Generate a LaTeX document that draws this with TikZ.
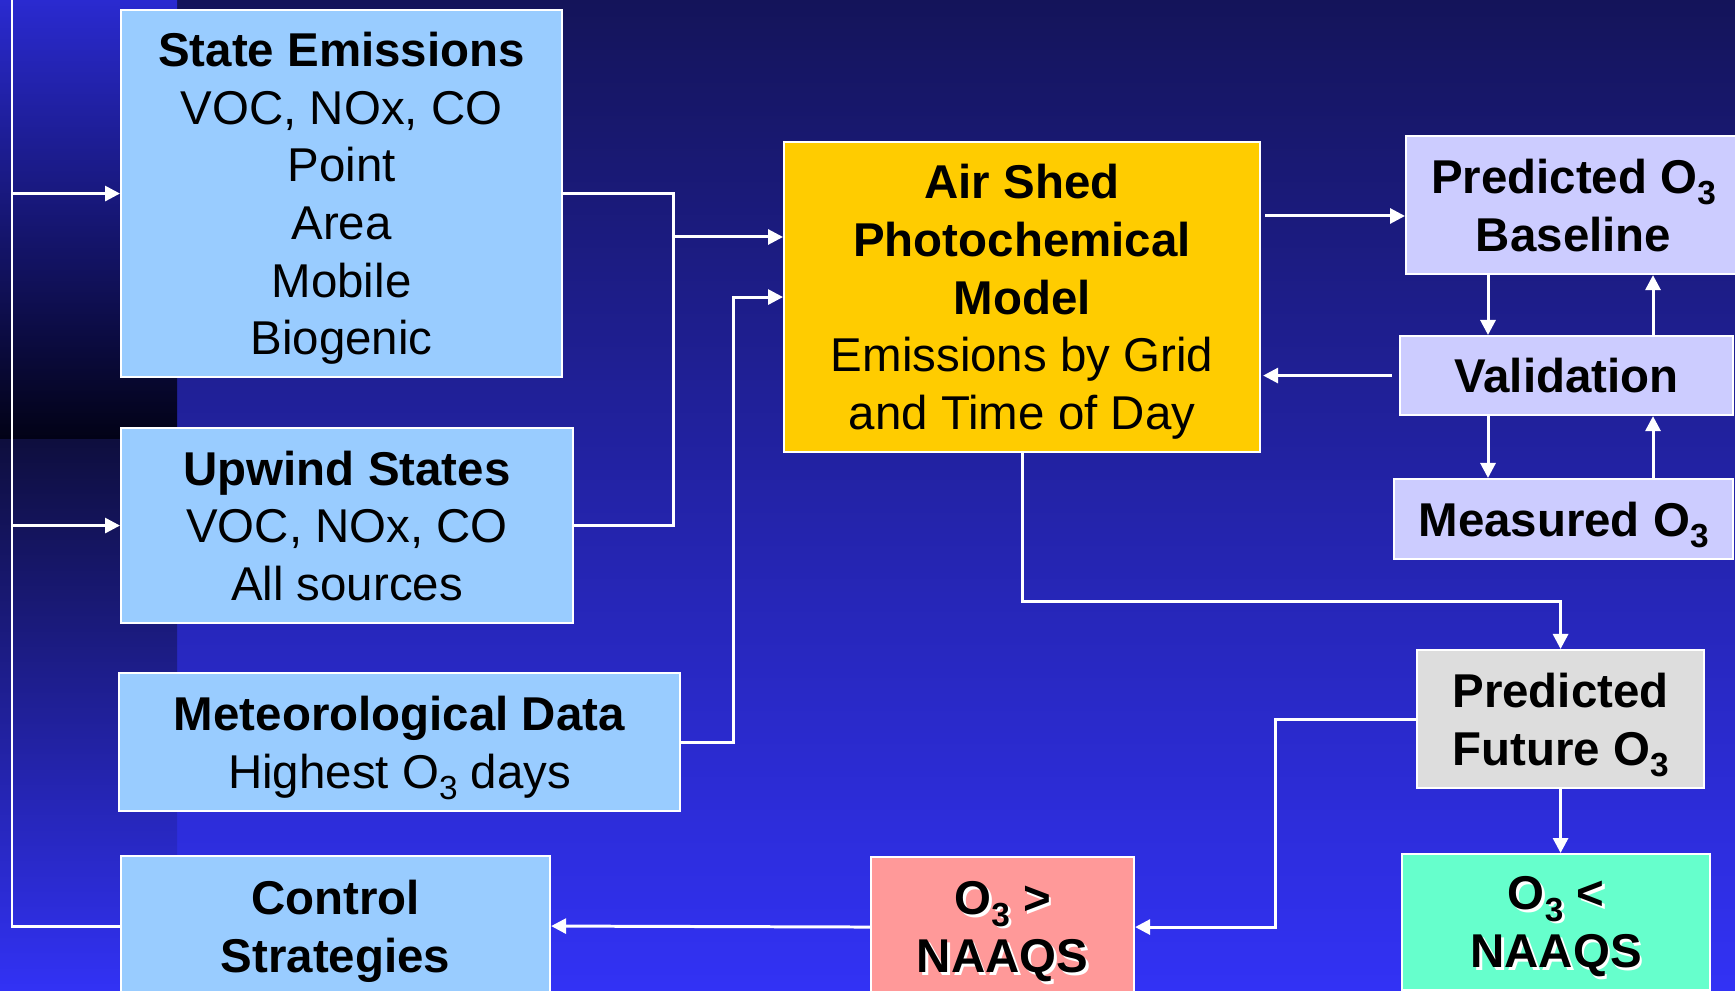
\documentclass[tikz,border=0pt]{standalone}
\usepackage{fontspec}
\setmainfont{Liberation Sans}
\usepackage{tikz}
\usetikzlibrary{arrows.meta,positioning,calc}
\usepackage{xcolor}

\definecolor{bgtop}{RGB}{20,20,90}
\definecolor{bgmid}{RGB}{38,38,180}
\definecolor{bgbot}{RGB}{50,50,245}
\definecolor{striptop}{RGB}{42,42,208}
\definecolor{stripdark}{RGB}{2,2,22}
\definecolor{stripnavy}{RGB}{14,14,62}
\definecolor{skyb}{RGB}{153,204,255}
\definecolor{gold}{RGB}{255,204,0}
\definecolor{lav}{RGB}{204,204,255}
\definecolor{greyb}{RGB}{221,221,221}
\definecolor{pinkb}{RGB}{255,153,153}
\definecolor{aqua}{RGB}{102,255,204}

\newcommand{\Othree}{O\raisebox{-0.45ex}{\fontsize{9.5pt}{9.5pt}\selectfont 3}}
\newcommand{\shd}[1]{\leavevmode\rlap{\kern0.8pt\raisebox{-0.8pt}{\color{white}#1}}#1}

\begin{document}
\begin{tikzpicture}[every node/.style={font=\fontsize{13.5pt}{16.4pt}\selectfont}]
\tikzset{box/.style={draw=white, line width=0.6pt, anchor=north west, align=center, inner sep=0pt, text depth=0pt}}
\tikzset{line/.style={draw=white, line width=0.85pt}}
\tikzset{arr/.style={line, -{Triangle[length=0.15cm,width=0.15cm]}}}
% background
\useasboundingbox (0,0) rectangle (17.35,-9.91);
\clip (0,0) rectangle (17.35,-9.91);
\shade[top color=bgtop, middle color=bgmid, bottom color=bgbot] (0,0) rectangle (17.35,-9.91);
\shade[top color=striptop, bottom color=stripdark] (0,0) rectangle (1.77,-4.40);
\shade[top color=stripnavy, bottom color=bgbot] (0,-4.40) rectangle (1.77,-9.91);
% inputs
\node[box, fill=skyb, minimum width=4.41cm, minimum height=3.67cm] (se) at (1.20,-0.09)
  {\textbf{State Emissions}\\VOC, NOx, CO\\Point\\Area\\Mobile\\Biogenic};
\node[box, fill=skyb, minimum width=4.52cm, minimum height=1.95cm] (up) at (1.20,-4.27)
  {\textbf{Upwind States}\\VOC, NOx, CO\\All sources};
\node[box, fill=skyb, minimum width=5.61cm, minimum height=1.38cm] (met) at (1.18,-6.72)
  {\textbf{Meteorological Data}\\Highest \Othree{} days};
\node[box, fill=skyb, minimum width=4.29cm, minimum height=1.40cm] (cs) at (1.20,-8.55)
  {\textbf{Control}\\\textbf{Strategies}};
% model
\node[box, fill=gold, minimum width=4.76cm, minimum height=3.10cm] (as) at (7.83,-1.41)
  {\textbf{Air Shed}\\\textbf{Photochemical}\\\textbf{Model}\\Emissions by Grid\\and Time of Day};
% validation loop
\node[box, fill=lav, minimum width=3.35cm, minimum height=1.38cm] (bl) at (14.05,-1.35)
  {\textbf{Predicted \Othree}\\\textbf{Baseline}};
\node[box, fill=lav, minimum width=3.33cm, minimum height=0.79cm] (val) at (13.99,-3.35)
  {\textbf{Validation}};
\node[box, fill=lav, minimum width=3.39cm, minimum height=0.80cm] (mo) at (13.93,-4.78)
  {\textbf{Measured \Othree}};
% outcome
\node[box, fill=greyb, minimum width=2.87cm, minimum height=1.38cm] (pf) at (14.16,-6.49)
  {\textbf{Predicted}\\\textbf{Future \Othree}};
\node[box, fill=pinkb, minimum width=2.63cm, minimum height=1.40cm] (gt) at (8.70,-8.56)
  {\textbf{\shd{\Othree{} >}}\\\textbf{\shd{NAAQS}}};
\node[box, fill=aqua, minimum width=3.08cm, minimum height=1.36cm] (lt) at (14.01,-8.53)
  {\textbf{\shd{\Othree{} <}}\\\textbf{\shd{NAAQS}}};
% connectors
\coordinate (j1) at (6.73,-2.37);
\coordinate (fb) at (0.12,0);
\coordinate (dx) at (14.88,0);
\coordinate (ux) at (16.53,0);
\coordinate (dy) at (0,-2.16);
\draw[line] (se.east) -| (j1) |- (up.east);
\draw[arr] (j1) -- (j1 -| as.west);
\draw[arr] (met.east) -- ++(0.52,0) |- (as.west);
\draw[arr] (cs.west) -| (fb) |- (se.west);
\draw[arr] (up.west -| fb) -- (up.west);
\draw[arr, shorten <=0.04cm] (as.east |- dy) -- (bl.west |- dy);
\draw[arr, shorten <=0.07cm, shorten >=0.02cm] (val.west) -- (val.west -| as.east);
\draw[arr] (bl.south -| dx) -- (val.north -| dx);
\draw[arr] (val.north -| ux) -- (bl.south -| ux);
\draw[arr] (val.south -| dx) -- (mo.north -| dx);
\draw[arr] (mo.north -| ux) -- (val.south -| ux);
\draw[arr] (as.south) -- ++(0,-1.48) -| (pf.north);
\draw[arr] (pf.west) -- ++(-1.41,0) |- (gt.east);
\draw[arr] (pf.south) -- (pf.south |- lt.north);
\draw[arr] (gt.west) -- (cs.east);
\end{tikzpicture}
\end{document}
